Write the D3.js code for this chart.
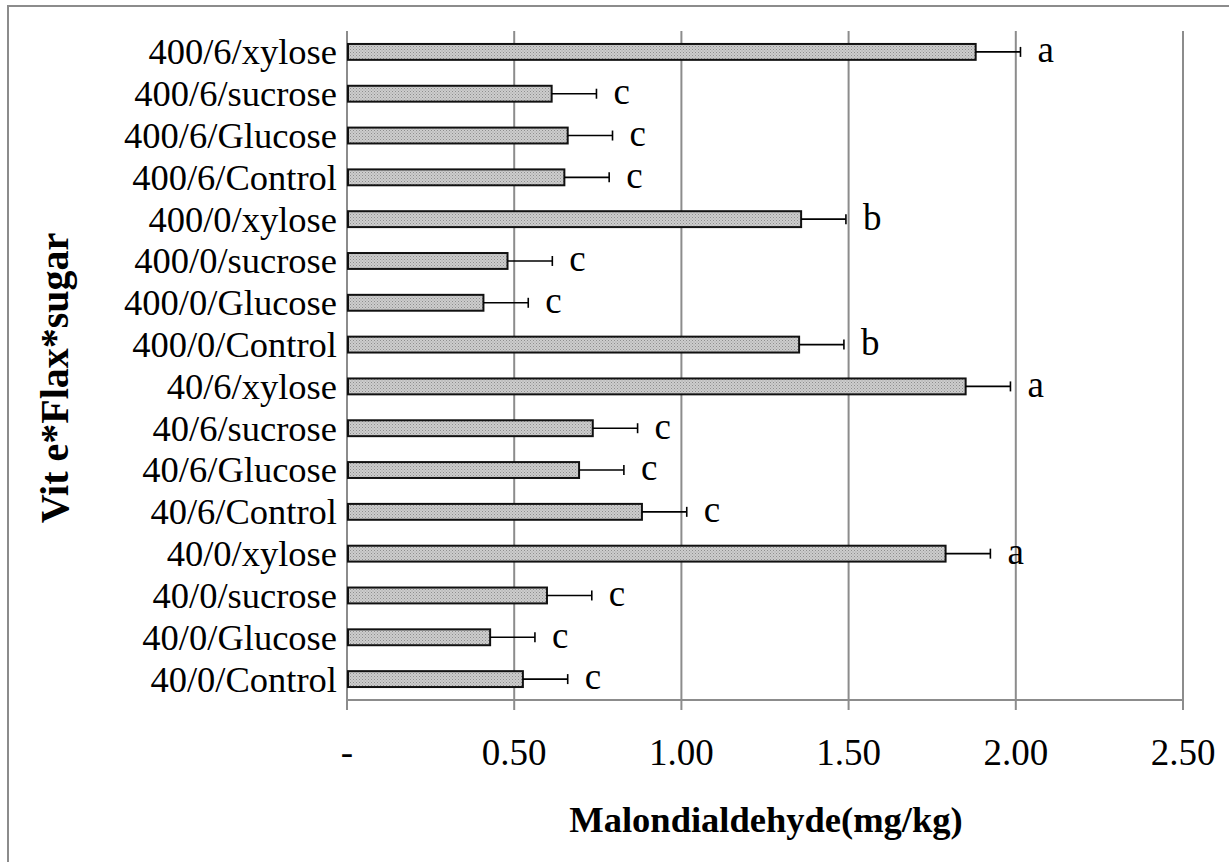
<!DOCTYPE html>
<html>
<head>
<meta charset="utf-8">
<script src="https://cdn.jsdelivr.net/npm/d3@7"></script>
<style>
  body { margin: 0; background: #fff; }
  text { font-family: "Liberation Serif", "Times New Roman", serif; fill: #000; }
</style>
</head>
<body>
<div id="chart"></div>
<script>
// categories top to bottom
var categories = ["400/6/xylose", "400/6/sucrose", "400/6/Glucose", "400/6/Control",
    "400/0/xylose", "400/0/sucrose", "400/0/Glucose", "400/0/Control",
    "40/6/xylose", "40/6/sucrose", "40/6/Glucose", "40/6/Control",
    "40/0/xylose", "40/0/sucrose", "40/0/Glucose", "40/0/Control"];
var mda = [1.88, 0.612, 0.66, 0.65, 1.358, 0.48, 0.408, 1.352,
    1.85, 0.735, 0.694, 0.882, 1.79, 0.598, 0.428, 0.526];
var errs = [0.134, 0.134, 0.134, 0.134, 0.134, 0.134, 0.134, 0.134,
    0.134, 0.134, 0.134, 0.134, 0.134, 0.134, 0.134, 0.134];
var letters = ["a", "c", "c", "c", "b", "c", "c", "b", "a", "c", "c", "c", "a", "c", "c", "c"];
var tickVals = [0, 0.5, 1, 1.5, 2, 2.5];
var tickLabels = ["-", "0.50", "1.00", "1.50", "2.00", "2.50"];

var data = categories.map(function(c, i) {
    return {cat: c, val: mda[i], err: errs[i], letter: letters[i]};
});

var W = 1229, H = 862;
var margin = {top: 31, right: 46, bottom: 162, left: 347},
    width = W - margin.left - margin.right,
    height = H - margin.top - margin.bottom;

var svg = d3.select("#chart").append("svg")
    .attr("width", W)
    .attr("height", H);

// bar texture
var pat = svg.append("defs").append("pattern")
    .attr("id", "dots")
    .attr("width", 3).attr("height", 3)
    .attr("patternUnits", "userSpaceOnUse");
pat.append("rect").attr("width", 3).attr("height", 3).attr("fill", "#cdcdcd");
pat.append("rect").attr("width", 1).attr("height", 1).attr("fill", "#8e8e8e");
pat.append("rect").attr("x", 1.5).attr("y", 1.5).attr("width", 1).attr("height", 1).attr("fill", "#a0a0a0");

// outer frame
svg.append("rect")
    .attr("x", 8).attr("y", 6)
    .attr("width", W + 20).attr("height", H + 20)
    .attr("fill", "none")
    .attr("stroke", "#8c8c8c")
    .attr("stroke-width", 2);

var g = svg.append("g")
    .attr("transform", "translate(" + margin.left + "," + margin.top + ")");

var x = d3.scaleLinear()
    .domain([0, 2.5])
    .range([0, width]);

var y = d3.scaleBand()
    .domain(categories)
    .range([0, height])
    .paddingInner(0.62)
    .paddingOuter(0.31);

// gridlines (extend below axis as tick marks)
g.selectAll(".grid")
    .data(tickVals)
    .enter().append("line")
    .attr("x1", function(d) { return x(d); })
    .attr("x2", function(d) { return x(d); })
    .attr("y1", 0)
    .attr("y2", height + 10)
    .attr("stroke", "#8c8c8c")
    .attr("stroke-width", 2);

// x axis line
g.append("line")
    .attr("x1", 0).attr("x2", width)
    .attr("y1", height).attr("y2", height)
    .attr("stroke", "#8c8c8c")
    .attr("stroke-width", 2);

// tick labels
g.selectAll(".xtick")
    .data(tickVals)
    .enter().append("text")
    .attr("x", function(d) { return x(d); })
    .attr("y", height + 65)
    .attr("text-anchor", "middle")
    .style("font-size", "37px")
    .text(function(d, i) { return tickLabels[i]; });

// category labels
g.selectAll(".ylab")
    .data(categories)
    .enter().append("text")
    .attr("x", -10)
    .attr("y", function(d) { return y(d) + y.bandwidth() / 2; })
    .attr("dy", "0.34em")
    .attr("text-anchor", "end")
    .style("font-size", "36.5px")
    .text(function(d) { return d; });

// bars
g.selectAll(".bar")
    .data(data)
    .enter().append("rect")
    .attr("x", x(0) + 1)
    .attr("y", function(d) { return y(d.cat); })
    .attr("width", function(d) { return x(d.val) - x(0) - 1; })
    .attr("height", y.bandwidth())
    .attr("fill", "url(#dots)")
    .attr("stroke", "#111")
    .attr("stroke-width", 2);

// error bars
var eb = g.selectAll(".err")
    .data(data)
    .enter().append("g");
eb.append("line")
    .attr("x1", function(d) { return x(d.val); })
    .attr("x2", function(d) { return x(d.val + d.err); })
    .attr("y1", function(d) { return y(d.cat) + y.bandwidth() / 2; })
    .attr("y2", function(d) { return y(d.cat) + y.bandwidth() / 2; })
    .attr("stroke", "#000")
    .attr("stroke-width", 1.6);
eb.append("line")
    .attr("x1", function(d) { return x(d.val + d.err); })
    .attr("x2", function(d) { return x(d.val + d.err); })
    .attr("y1", function(d) { return y(d.cat) + y.bandwidth() / 2 - 5; })
    .attr("y2", function(d) { return y(d.cat) + y.bandwidth() / 2 + 5; })
    .attr("stroke", "#000")
    .attr("stroke-width", 1.6);

// significance letters
g.selectAll(".letter")
    .data(data)
    .enter().append("text")
    .attr("x", function(d) { return x(d.val + d.err) + 17; })
    .attr("y", function(d) { return y(d.cat) + y.bandwidth() / 2; })
    .attr("dy", "0.28em")
    .style("font-size", "37px")
    .text(function(d) { return d.letter; });

// axis titles
svg.append("text")
    .attr("x", 766)
    .attr("y", 832)
    .attr("text-anchor", "middle")
    .style("font-size", "36.5px")
    .style("font-weight", "bold")
    .text("Malondialdehyde(mg/kg)");

svg.append("text")
    .attr("transform", "translate(68,378) rotate(-90)")
    .attr("text-anchor", "middle")
    .style("font-size", "40px")
    .style("font-weight", "bold")
    .text("Vit e*Flax*sugar");
</script>
</body>
</html>
